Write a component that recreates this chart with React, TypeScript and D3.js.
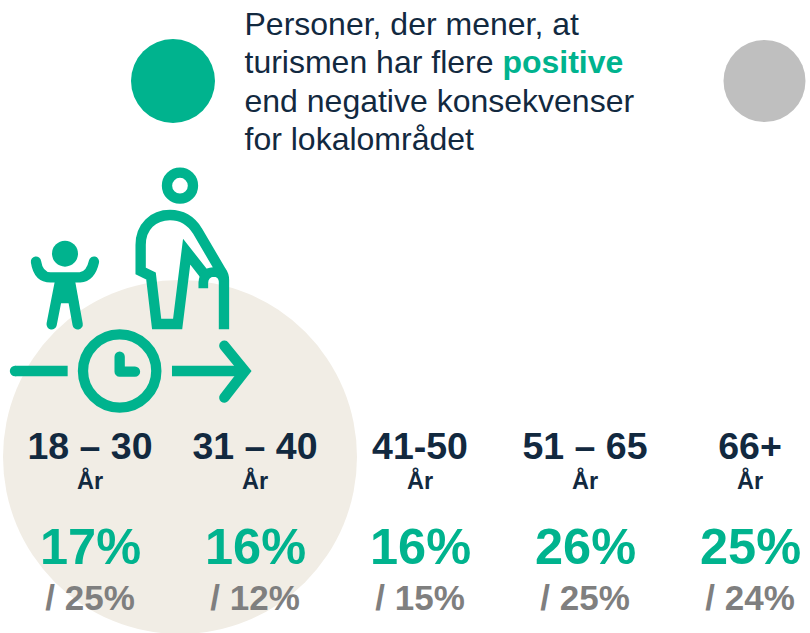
import React from "react";
import * as d3 from "d3";

const ageGroups = ["18 – 30", "31 – 40", "41-50", "51 – 65", "66+"];
const unitLabel = "År";
const positiveShare = [17, 16, 16, 26, 25];
const negativeShare = [25, 12, 15, 25, 24];

const GREEN = "#00B38E";
const NAVY = "#12293F";
const GREY = "#7F7F7F";
const LIGHT_GREY = "#BFBFBF";
const BEIGE = "#F1EDE5";
const FONT = "'Liberation Sans', Arial, sans-serif";

export default function App() {
  const x = d3.scalePoint<string>().domain(ageGroups).range([90, 750]);
  return (
    <svg width={810} height={633} viewBox="0 0 810 633"
      style={{ position: "absolute", left: 0, top: 0, display: "block", background: "#fff" }}
      fontFamily={FONT}>
      <circle cx={180} cy={457} r={177} fill={BEIGE} />
      <circle cx={173} cy={81} r={42} fill={GREEN} />
      <circle cx={764.5} cy={81} r={41} fill={LIGHT_GREY} />

      <g fontSize={32} fill={NAVY}>
        <text x={244.5} y={35}>Personer, der mener, at</text>
        <text x={244.5} y={73}>turismen har flere <tspan fill={GREEN} fontWeight="bold">positive</tspan></text>
        <text x={244.5} y={112}>end negative konsekvenser</text>
        <text x={244.5} y={150}>for lokalområdet</text>
      </g>

      <g transform="translate(0,160) scale(0.3333)" fill="none" stroke={GREEN} strokeWidth={31}>
        <circle cx={540} cy={77} r={39} />
        <path d="M672 508 V360 Q672 346 664 335 L592 212 Q562 165 510 165 C460 165 422 200 422 255 V333 L453 348 L470 492 H533 L560 275 L615 345" />
        <path d="M610 385 V368 Q612 338 640 336 Q668 336 672 365" strokeWidth={29} />
        <circle cx={195} cy={281} r={39} fill={GREEN} stroke="none" />
        <path d="M108 305 Q115 352 152 352 H240 Q272 350 282 305" strokeLinecap="round" />
        <path d="M155 493 L180 365 H210 L233 493" strokeLinecap="round" />
        <path d="M168 360 H222 L236 430 H160 Z" fill={GREEN} stroke="none" />
        <path d="M45 633 H203" />
        <circle cx={45} cy={633} r={15.5} fill={GREEN} stroke="none" />
        <circle cx={359} cy={633} r={110} />
        <path d="M359 590 V635 H405" strokeLinecap="round" strokeLinejoin="round" />
        <path d="M516 633 H730" />
        <path d="M673 557 L735 633 L673 713" strokeLinecap="round" />
      </g>

      {ageGroups.map((g, i) => (
        <g key={g} textAnchor="middle" fontWeight="bold" transform={`translate(${x(g)},0)`}>
          <text y={459} fontSize={37.5} fill={NAVY}>{g}</text>
          <text y={489} fontSize={23.5} fill={NAVY}>{unitLabel}</text>
          <text x={0.5} y={564} fontSize={50.5} fill={GREEN}>{positiveShare[i]}%</text>
          <text y={610} fontSize={35} fill={GREY}>/ {negativeShare[i]}%</text>
        </g>
      ))}
    </svg>
  );
}
